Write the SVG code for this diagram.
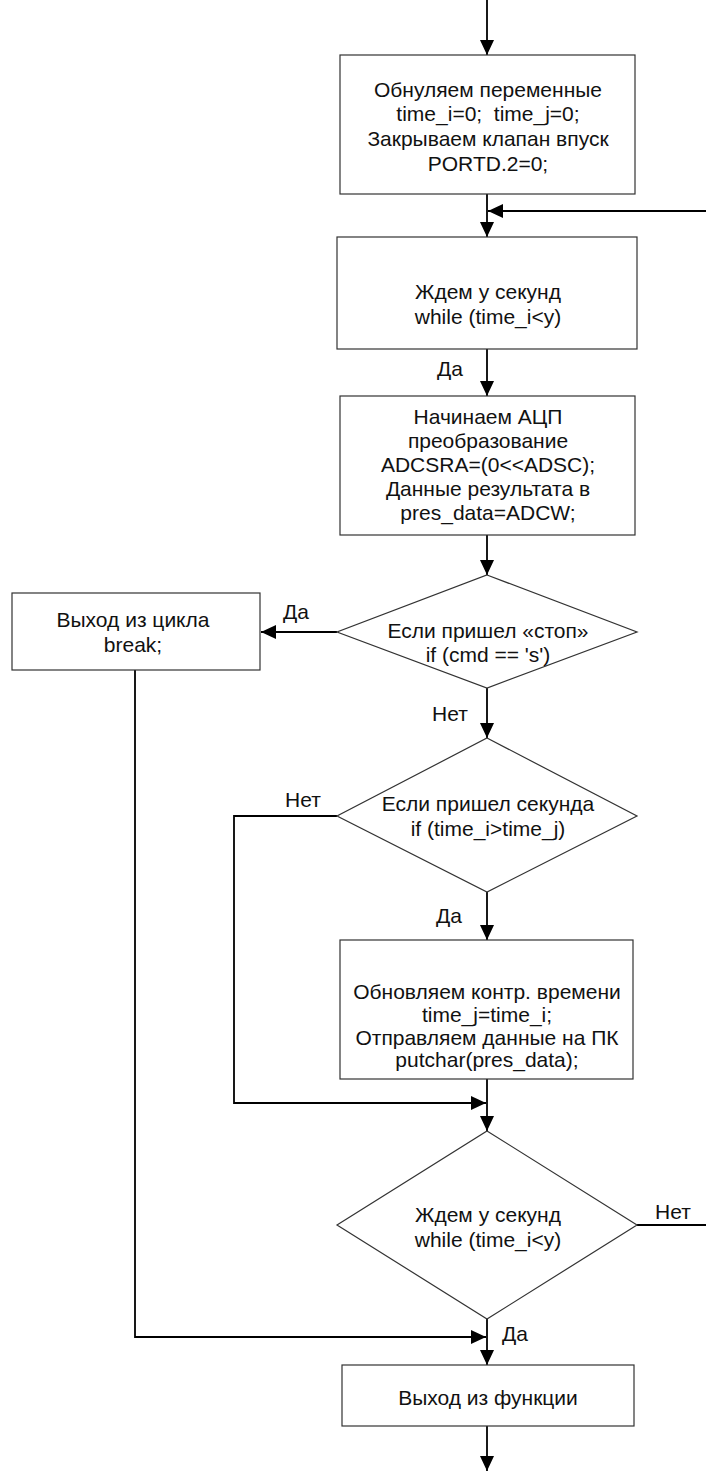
<svg xmlns="http://www.w3.org/2000/svg" width="706" height="1472" viewBox="0 0 706 1472">
  <style>
    .shape { fill: #ffffff; stroke: #333333; stroke-width: 1.2; }
    .wire { fill: none; stroke: #000000; stroke-width: 1.8; }
    text { font-family: "Liberation Sans", Arial, sans-serif; font-size: 21px; fill: #111111; text-anchor: middle; }
  </style>
  <defs>
    <marker id="arrow" markerWidth="16" markerHeight="16" refX="15" refY="7" orient="auto" markerUnits="userSpaceOnUse">
      <path d="M0,0 L15,7 L0,14 Z" fill="#000000"/>
    </marker>
  </defs>
  <rect width="706" height="1472" fill="#ffffff"/>

  <!-- connectors -->
  <g id="connectors">
    <line class="wire" x1="487" y1="0" x2="487" y2="55" marker-end="url(#arrow)"/>
    <line class="wire" x1="487" y1="194" x2="487" y2="237" marker-end="url(#arrow)"/>
    <line class="wire" x1="706" y1="211" x2="488" y2="211" marker-end="url(#arrow)"/>
    <line class="wire" x1="487" y1="349" x2="487" y2="396" marker-end="url(#arrow)"/>
    <line class="wire" x1="487" y1="535" x2="487" y2="575" marker-end="url(#arrow)"/>
    <line class="wire" x1="337" y1="632" x2="261" y2="632" marker-end="url(#arrow)"/>
    <line class="wire" x1="487" y1="688" x2="487" y2="738" marker-end="url(#arrow)"/>
    <line class="wire" x1="487" y1="892" x2="487" y2="940" marker-end="url(#arrow)"/>
    <polyline class="wire" points="337,816 234,816 234,1103 486,1103" marker-end="url(#arrow)"/>
    <line class="wire" x1="487" y1="1079" x2="487" y2="1131" marker-end="url(#arrow)"/>
    <line class="wire" x1="637" y1="1225" x2="706" y2="1225"/>
    <polyline class="wire" points="135,670 135,1337 486,1337" marker-end="url(#arrow)"/>
    <line class="wire" x1="487" y1="1319" x2="487" y2="1365" marker-end="url(#arrow)"/>
    <line class="wire" x1="487" y1="1426" x2="487" y2="1471" marker-end="url(#arrow)"/>
  </g>

  <!-- connector labels -->
  <g id="labels">
    <text x="450" y="376">Да</text>
    <text x="296" y="619">Да</text>
    <text x="450" y="721">Нет</text>
    <text x="303" y="807">Нет</text>
    <text x="449" y="923">Да</text>
    <text x="673" y="1219">Нет</text>
    <text x="515" y="1341">Да</text>
  </g>

  <g id="reset-vars">
    <rect class="shape" x="340" y="55" width="295" height="139"/>
    <text x="488" y="97">Обнуляем переменные</text>
    <text x="488" y="121" xml:space="preserve">time_i=0;  time_j=0;</text>
    <text x="488" y="146">Закрываем клапан впуск</text>
    <text x="488" y="171">PORTD.2=0;</text>
  </g>

  <g id="wait-y">
    <rect class="shape" x="337" y="237" width="300" height="112"/>
    <text x="488" y="299">Ждем у секунд</text>
    <text x="488" y="324">while (time_i&lt;y)</text>
  </g>

  <g id="adc-start">
    <rect class="shape" x="340" y="396" width="295" height="139"/>
    <text x="488" y="424">Начинаем АЦП</text>
    <text x="488" y="448">преобразование</text>
    <text x="488" y="472">ADCSRA=(0&lt;&lt;ADSC);</text>
    <text x="488" y="496">Данные результата в</text>
    <text x="488" y="520">pres_data=ADCW;</text>
  </g>

  <g id="check-stop">
    <polygon class="shape" points="487,575 637,632 487,688 337,632"/>
    <text x="488" y="638">Если пришел «стоп»</text>
    <text x="488" y="662">if (cmd == 's')</text>
  </g>

  <g id="loop-break">
    <rect class="shape" x="12" y="593" width="248" height="77"/>
    <text x="133" y="627">Выход из цикла</text>
    <text x="133" y="652">break;</text>
  </g>

  <g id="check-second">
    <polygon class="shape" points="487,738 637,816 487,892 337,816"/>
    <text x="488" y="811">Если пришел секунда</text>
    <text x="488" y="836">if (time_i&gt;time_j)</text>
  </g>

  <g id="send-data">
    <rect class="shape" x="340" y="940" width="293" height="139"/>
    <text x="487" y="999">Обновляем контр. времени</text>
    <text x="487" y="1022">time_j=time_i;</text>
    <text x="487" y="1045">Отправляем данные на ПК</text>
    <text x="487" y="1067">putchar(pres_data);</text>
  </g>

  <g id="wait-y-loop">
    <polygon class="shape" points="487,1131 637,1225 487,1319 337,1225"/>
    <text x="488" y="1222">Ждем у секунд</text>
    <text x="488" y="1247">while (time_i&lt;y)</text>
  </g>

  <g id="func-exit">
    <rect class="shape" x="342" y="1365" width="292" height="61"/>
    <text x="488" y="1405">Выход из функции</text>
  </g>
</svg>
